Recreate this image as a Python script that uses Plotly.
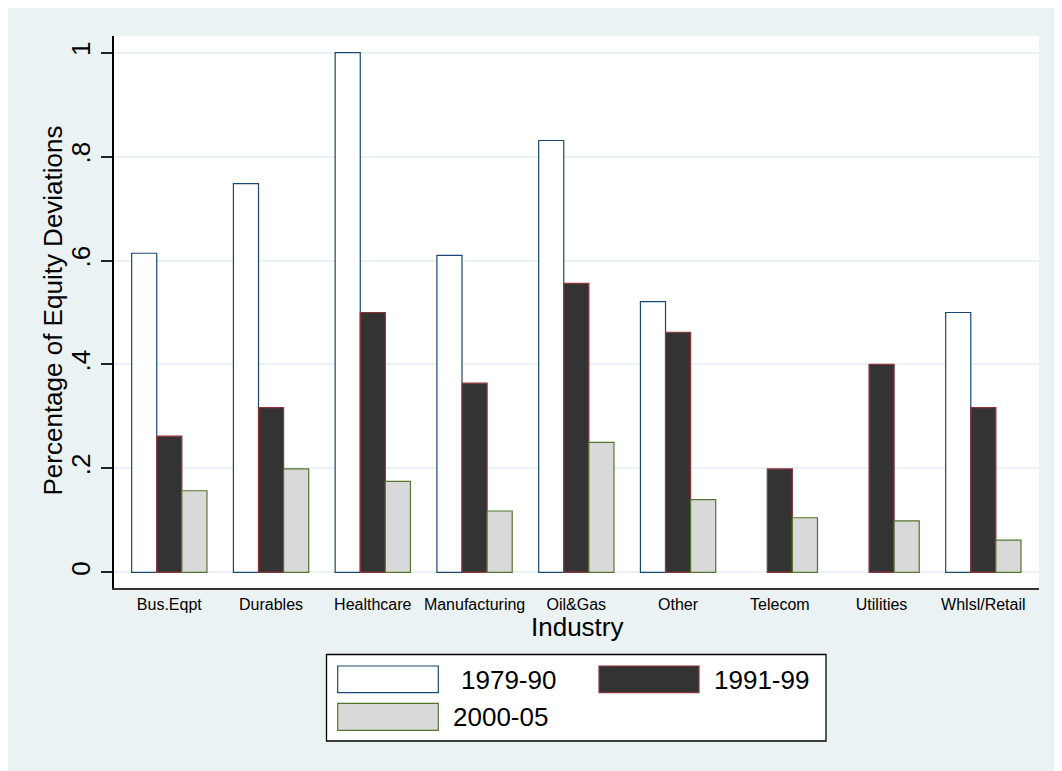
import plotly.graph_objects as go

industries = ["Bus.Eqpt", "Durables", "Healthcare", "Manufacturing", "Oil&Gas",
              "Other", "Telecom", "Utilities", "Whlsl/Retail"]
p1979_90 = [0.614, 0.748, 1.000, 0.610, 0.831, 0.521, None, None, 0.500]
p1991_99 = [0.262, 0.317, 0.500, 0.364, 0.556, 0.462, 0.199, 0.400, 0.317]
p2000_05 = [0.157, 0.199, 0.175, 0.118, 0.250, 0.140, 0.105, 0.099, 0.062]
series_names = ["1979-90", "1991-99", "2000-05"]
y_ticks = [0, 0.2, 0.4, 0.6, 0.8, 1.0]
y_ticklabels = ["0", ".2", ".4", ".6", ".8", "1"]

W, H = 1062, 771
OFF = 8  # page offset of the figure (body margin)
L, R, T, B = 114 - OFF, 1039 - OFF, 36 - OFF, 588 - OFF
FONT = "Arial, Liberation Sans, sans-serif"
BG = "#eaf2f3"

fills = ["#ffffff", "#333333", "#d9d9d9"]
lines = ["#1a476f", "#90353b", "#55752f"]

def px(x):
    return (x - OFF - L) / (R - L)

def py(y):
    return (B - (y - OFF)) / (B - T)

fig = go.Figure()
for name, vals, fc, lc in zip(series_names, [p1979_90, p1991_99, p2000_05], fills, lines):
    fig.add_trace(go.Bar(
        x=industries, y=vals, name=name,
        marker=dict(color=fc, line=dict(color=lc, width=1.2)),
        showlegend=False,
    ))

shapes = [
    dict(type="rect", xref="paper", yref="paper", x0=px(326.5), x1=px(826), y0=py(741), y1=py(654.5),
         fillcolor="#ffffff", line=dict(color="#000000", width=1.3), layer="above"),
]
swatches = [(337.7, 438.3, 666, 692.7), (599, 699, 666, 692.7), (337.7, 438.3, 703.3, 730.3)]
for (x0, x1, y0, y1), fc, lc in zip(swatches, fills, lines):
    shapes.append(dict(type="rect", xref="paper", yref="paper", x0=px(x0), x1=px(x1),
                       y0=py(y1), y1=py(y0), fillcolor=fc, line=dict(color=lc, width=1.2),
                       layer="above"))

annotations = [
    dict(text="Percentage of Equity Deviations", xref="paper", yref="paper",
         x=px(52), y=py(310.5), textangle=-90, showarrow=False,
         xanchor="center", yanchor="middle", font=dict(size=26, color="#000000", family=FONT)),
    dict(text="Industry", xref="paper", yref="paper", x=px(577), y=py(627),
         showarrow=False, xanchor="center", yanchor="middle",
         font=dict(size=26, color="#000000", family=FONT)),
]
legend_text = [("1979-90", 459, 679.5), ("1991-99", 712, 679.5), ("2000-05", 451, 716.5)]
for txt, x, y in legend_text:
    annotations.append(dict(text=txt, xref="paper", yref="paper", x=px(x), y=py(y),
                            showarrow=False, xanchor="left", yanchor="middle",
                            font=dict(size=26, color="#000000", family=FONT)))

fig.update_layout(
    width=W, height=H,
    margin=dict(l=L, r=W - R, t=T, b=H - B, pad=0),
    paper_bgcolor=BG, plot_bgcolor="#ffffff",
    barmode="group", bargap=0.26, bargroupgap=0,
    font=dict(family=FONT, color="#000000"),
    shapes=shapes, annotations=annotations,
    showlegend=False,
)
fig.update_xaxes(
    range=[-0.5435, 8.547], showgrid=False, zeroline=False,
    showline=True, linecolor="#333333", linewidth=1.5,
    ticks="", tickfont=dict(size=16, family=FONT, color="#000000"),
    ticklabelstandoff=1,
)
fig.update_yaxes(
    range=[-0.0302, 1.0321], tickvals=y_ticks, ticktext=y_ticklabels,
    showgrid=True, gridcolor=BG, gridwidth=1.6, zeroline=False,
    showline=True, linecolor="#000000", linewidth=1.5,
    ticks="outside", ticklen=11, tickcolor="#222222", tickwidth=1.5,
    tickangle=-90, tickfont=dict(size=26, family=FONT, color="#000000"),
    ticklabelstandoff=1,
)

fig.write_html("out.html")
